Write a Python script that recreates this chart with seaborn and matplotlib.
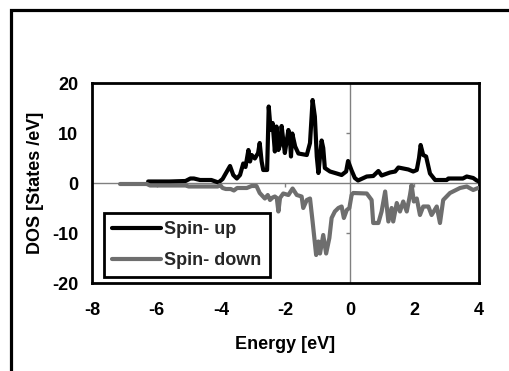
import numpy as np
import pandas as pd
import matplotlib
matplotlib.use("Agg")
import matplotlib.pyplot as plt
from matplotlib.patches import Rectangle
import seaborn as sns

# ---- data ----
up_energy = [-6.26, -5.6, -5.1, -4.95, -4.84, -4.65, -4.3, -4.08, -3.95, -3.88, -3.72, -3.62,
             -3.51, -3.41, -3.31, -3.24, -3.15, -3.1, -3.05, -2.95, -2.85, -2.8, -2.74, -2.69,
             -2.57, -2.52, -2.46, -2.40, -2.33, -2.28, -2.22, -2.17, -2.12, -2.07, -2.02,
             -1.91, -1.86, -1.83, -1.79, -1.70, -1.60, -1.34, -1.24, -1.16, -1.09, -1.03,
             -0.98, -0.88, -0.83, -0.78, -0.62, -0.41, -0.26, -0.12, -0.06, 0.05, 0.15, 0.25,
             0.52, 0.72, 0.88, 0.98, 1.24, 1.40, 1.50, 1.81, 1.96, 2.07, 2.14, 2.19, 2.27,
             2.36, 2.48, 2.64, 3.0, 3.05, 3.5, 3.62, 3.82, 3.93, 4.0]
up_dos = [0.3, 0.3, 0.4, 0.9, 0.9, 0.6, 0.6, 0.1, 0.8, 1.6, 3.4, 1.6,
          0.9, 1.6, 3.9, 3.2, 6.6, 4.3, 5.6, 4.9, 6.0, 8.0, 4.3, 2.6,
          2.6, 15.3, 10.6, 12.0, 6.3, 11.3, 6.6, 7.6, 11.4, 8.6, 6.0,
          10.6, 8.6, 5.3, 9.9, 7.3, 5.9, 5.6, 8.0, 16.6, 13.3, 5.3,
          2.0, 8.5, 7.0, 3.0, 2.3, 1.9, 1.6, 2.3, 4.4, 2.5, 1.0, 0.5,
          1.3, 1.4, 2.4, 1.5, 2.1, 2.3, 3.1, 2.7, 2.3, 2.6, 5.0, 7.6, 5.6,
          5.3, 1.9, 0.6, 0.6, 0.9, 0.9, 1.3, 1.0, 0.5, 0.3]

down_energy = [-7.13, -6.3, -6.2, -5.1, -5.0, -4.1, -4.03, -3.95, -3.85, -3.7, -3.6, -3.5,
               -3.2, -3.05, -2.9, -2.8, -2.64, -2.55, -2.48, -2.40, -2.33, -2.27, -2.22,
               -2.17, -2.07, -1.91, -1.78, -1.65, -1.50, -1.45, -1.34, -1.24, -1.16, -1.05,
               -0.98, -0.93, -0.83, -0.74, -0.64, -0.57, -0.47, -0.36, -0.26, -0.19, -0.10,
               -0.02, 0.05, 0.10, 0.52, 0.67, 0.72, 0.88, 0.98, 1.09, 1.19, 1.29, 1.34,
               1.45, 1.55, 1.65, 1.76, 1.86, 1.91, 1.98, 2.07, 2.17, 2.27, 2.43, 2.53,
               2.69, 2.79, 2.89, 3.10, 3.41, 3.62, 3.82, 3.97]
down_dos = [-0.2, -0.2, -0.5, -0.5, -0.7, -0.7, -0.4, -1.0, -1.2, -1.2, -1.5, -1.0,
            -1.0, -0.6, -0.6, -2.0, -3.1, -2.4, -3.4, -2.9, -2.7, -3.0, -5.7,
            -3.0, -2.1, -2.4, -1.1, -2.4, -2.7, -5.0, -3.4, -3.1, -7.7, -14.4,
            -11.7, -14.1, -10.4, -14.1, -11.0, -7.0, -5.7, -5.0, -4.7, -7.0, -5.4,
            -5.0, -2.4, -2.0, -2.1, -3.4, -8.0, -8.0, -5.7, -1.7, -7.7, -5.0, -7.7,
            -4.0, -5.7, -3.7, -5.7, -2.4, -0.4, -3.7, -3.1, -6.4, -4.7, -4.7, -6.4,
            -4.7, -8.0, -3.4, -2.0, -1.0, -0.7, -1.4, -1.0]

series_names = ["Spin- up", "Spin- down"]
x_ticks = [-8, -6, -4, -2, 0, 2, 4]
y_ticks = [-20, -10, 0, 10, 20]

df = pd.concat([
    pd.DataFrame({"Energy": up_energy, "DOS": up_dos, "Spin": series_names[0]}),
    pd.DataFrame({"Energy": down_energy, "DOS": down_dos, "Spin": series_names[1]}),
], ignore_index=True)

sns.set_theme(style="white")
plt.rcParams["font.family"] = ["Liberation Sans", "DejaVu Sans"]
plt.rcParams["font.weight"] = "bold"
plt.rcParams["axes.unicode_minus"] = False

FS = 13
LW = 3.0

fig = plt.figure(figsize=(5.10, 3.71), dpi=100)
fig.patch.set_facecolor("white")
ax = fig.add_axes([92 / 510, 1 - 283 / 371, 387 / 510, 200 / 371])

# zero axes lines
ax.axhline(0, color="#808080", lw=1.0, zorder=1)
ax.axvline(0, color="#808080", lw=1.0, zorder=1)
xt = [t for t in x_ticks if t not in (0, -8, 4)]
yt = [t for t in y_ticks if t not in (0, -20, 20)]
ax.vlines(xt, -0.8, 0, color="#808080", lw=1.0, zorder=1)
ax.hlines(yt, -0.13, 0, color="#808080", lw=1.0, zorder=1)

palette = {series_names[0]: "black", series_names[1]: "#6e6e6e"}
sns.lineplot(data=df, x="Energy", y="DOS", hue="Spin", palette=palette,
             estimator=None, sort=False, linewidth=LW, ax=ax, zorder=3)

ax.set_xlim(-8, 4)
ax.set_ylim(-20, 20)
ax.set_xticks(x_ticks)
ax.set_yticks(y_ticks)
ax.tick_params(axis="both", length=0, labelsize=FS, colors="black")
ax.tick_params(axis="x", pad=14)
ax.tick_params(axis="y", pad=10)
for lab in ax.get_xticklabels() + ax.get_yticklabels():
    lab.set_fontweight("bold")
for s in ax.spines.values():
    s.set_visible(True)
    s.set_color("black")
    s.set_linewidth(2.0)

ax.set_xlabel("Energy [eV]", fontsize=FS, fontweight="bold", color="black")
ax.set_ylabel("DOS [States /eV]", fontsize=FS, fontweight="bold", color="black")
ax.xaxis.set_label_coords(0.5, -0.265)
ax.yaxis.set_label_coords(-0.125, 0.5)

leg = ax.legend(loc="lower left", bbox_to_anchor=(0.031, 0.03), frameon=True,
                fancybox=False, edgecolor="black", framealpha=1, fontsize=FS,
                handlelength=2.7, handletextpad=0.2, labelspacing=0.75,
                borderpad=0.45, borderaxespad=0)
leg.get_frame().set_linewidth(2.0)
for t in leg.get_texts():
    t.set_fontweight("bold")
for l in leg.get_lines():
    l.set_linewidth(LW)

# outer chart-area frame (clipped by the image at right and bottom)
fig.patches.append(Rectangle((11 / 510, -0.2), 1.2, 1.2 - 10 / 371, fill=False,
                             edgecolor="black", lw=2.3, transform=fig.transFigure,
                             figure=fig))

fig.savefig("out.png", dpi=100, facecolor="white")
